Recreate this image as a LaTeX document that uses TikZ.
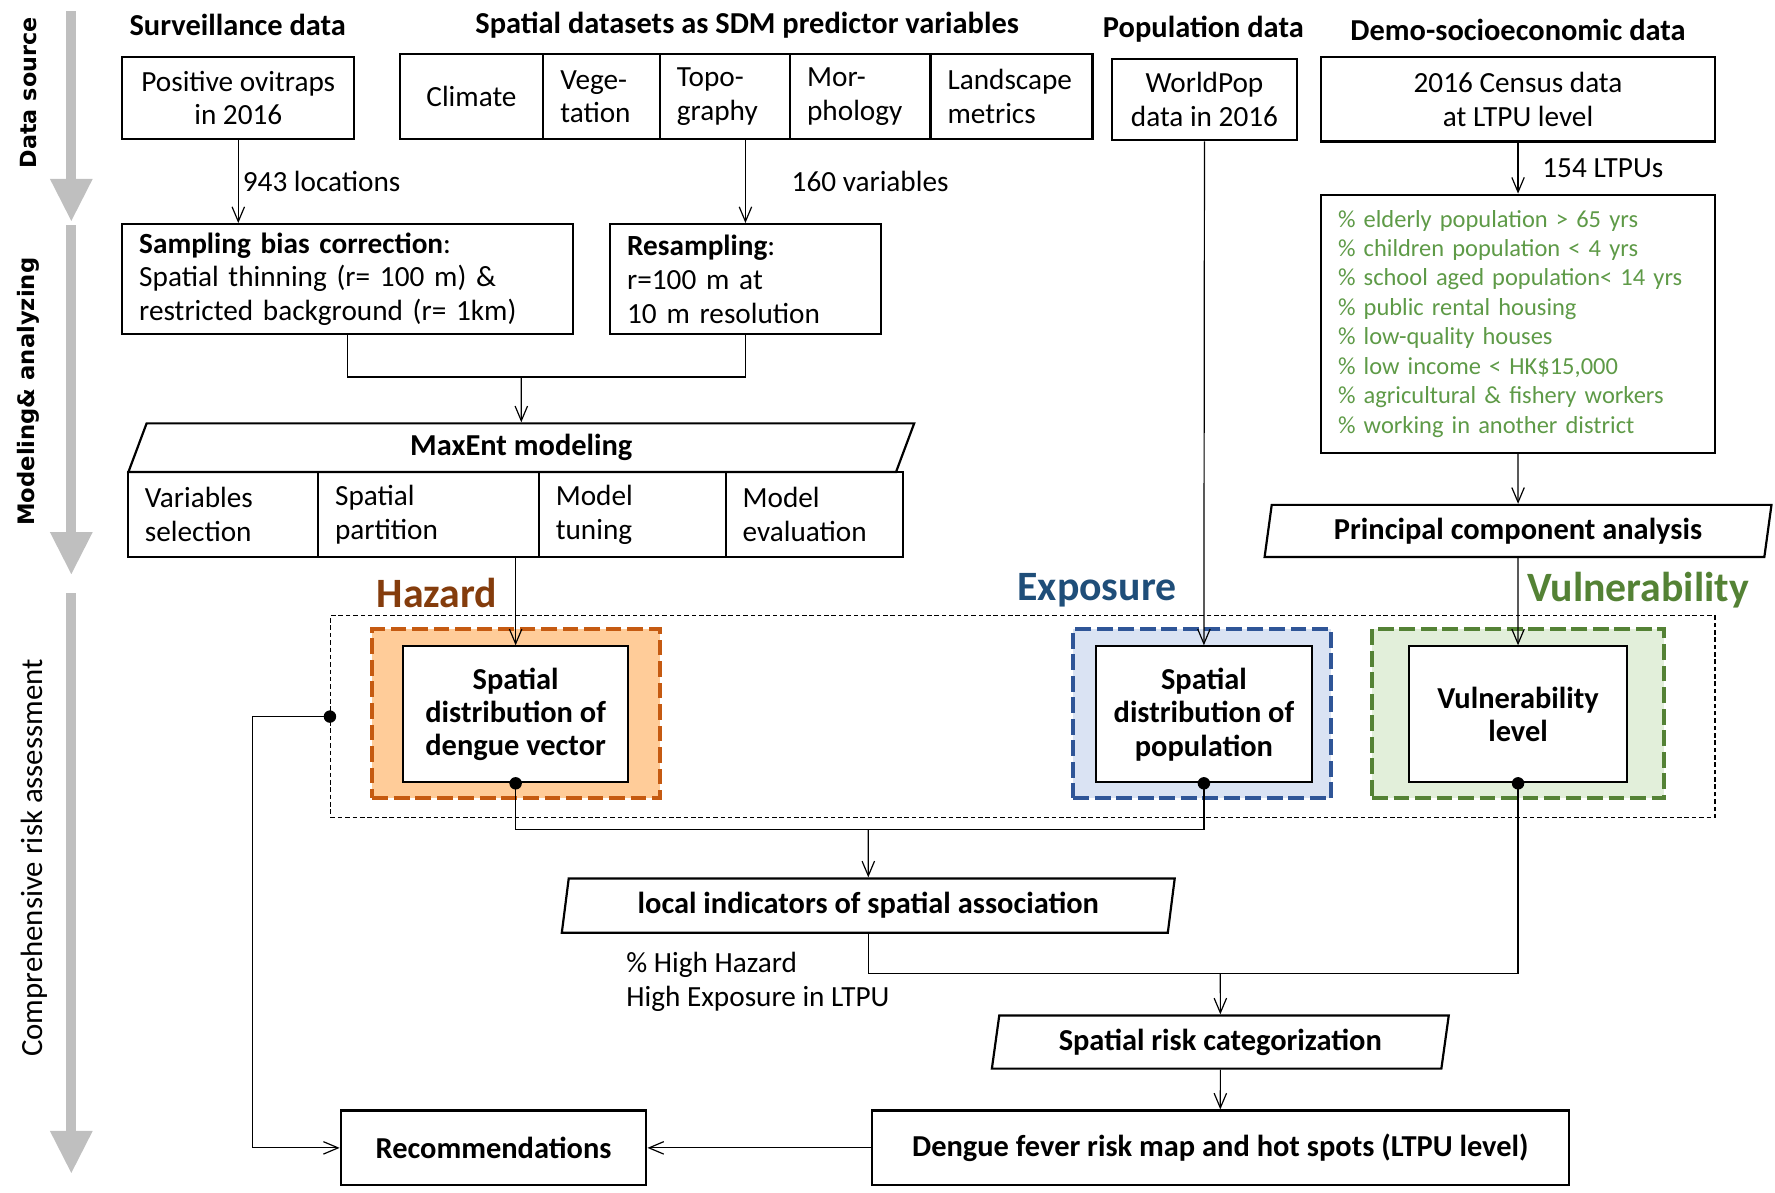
\documentclass[tikz,border=0pt]{standalone}
\usepackage{fontspec}
\setmainfont{Carlito}
\newfontfamily\sidefont{DejaVu Sans}
\usetikzlibrary{arrows.meta,shapes.geometric}
\definecolor{sidegray}{HTML}{BFBFBF}
\definecolor{hazline}{HTML}{C55A11}
\definecolor{hazfill}{HTML}{FFCC99}
\definecolor{hazword}{HTML}{843C0C}
\definecolor{expline}{HTML}{2F5597}
\definecolor{expfill}{HTML}{DAE3F3}
\definecolor{expword}{HTML}{1F4E79}
\definecolor{vulline}{HTML}{548235}
\definecolor{vulfill}{HTML}{E2EFDA}
\definecolor{vulword}{HTML}{548235}
\definecolor{listgreen}{HTML}{5E9A47}

\begin{document}
\begin{tikzpicture}[x=0.2mm,y=-0.2mm,
  box/.style={draw,line width=1.1pt,align=center,inner sep=0pt,font=\fontsize{14.7}{17}\selectfont},
  bbox/.style={box,font=\fontsize{15.3}{16.8}\selectfont\bfseries},
  wh/.style 2 args={minimum width=#1*0.2mm,minimum height=#2*0.2mm},
  cell/.style={box,align=left,text width=#1,inner xsep=3mm},
  title/.style={font=\fontsize{15.3}{17}\selectfont\bfseries,inner sep=0pt},
  para/.style={draw,line width=1.1pt,trapezium,trapezium left angle=78.5,trapezium right angle=101.5,
    trapezium stretches=true,inner sep=0pt,font=\fontsize{15.3}{17}\selectfont\bfseries},
  lbl/.style={font=\fontsize{14.7}{17}\selectfont,inner sep=0pt,align=left},
  risklbl/.style={font=\fontsize{21}{24}\selectfont\bfseries,inner sep=0pt},
  riskframe/.style={line width=2pt,dash pattern=on 2.8mm off 1mm},
  dot/.style={circle,fill,inner sep=0pt,minimum size=2.2mm},
  conn/.style={line width=0.6pt,-{Straight Barb[length=2.6mm,width=2.2mm]}},
  wire/.style={line width=0.6pt},
  sidearrow/.style={draw=sidegray,line width=1.8mm,-{Triangle[length=7.6mm,width=7mm]}},
  sidelbl/.style={rotate=90,inner sep=0pt}]
\useasboundingbox (0,0) rectangle (1568,1053);

\draw[sidearrow] (63,10) -- (63,196);
\draw[sidearrow] (63,199) -- (63,508);
\draw[sidearrow] (63,524) -- (63,1037);
\node[sidelbl,font=\sidefont\bfseries\fontsize{11.2}{13}\selectfont] (dsrc) at (25,82) {Data source};
\node[sidelbl,font=\sidefont\bfseries\fontsize{11.4}{13}\selectfont] (model) at (25,346) {Modeling\& analyzing};
\node[sidelbl,font=\fontsize{15.5}{18}\selectfont] (assess) at (30,758) {Comprehensive risk assessment};

\node[title] (surv) at (210,22) {Surveillance data};
\node[title] (sdm) at (660,22) {Spatial datasets as SDM predictor variables};
\node[title] (popd) at (1063,26) {Population data};
\node[title] (demo) at (1341,26) {Demo-socioeconomic data};

\node[box,wh={205}{73}] (ovi) at (210.5,86.5) {Positive ovitraps\\in 2016};
\node[box,wh={127}{75}] (clim) at (416.5,85.5) {Climate};
\node[cell=14.6mm,wh={103}{75}] (veg) at (531.5,85.5) {Vege-\\tation};
\node[cell=17mm,wh={115}{75}] (topo) at (640.5,85.5) {Topo-\\graphy};
\node[cell=18.8mm,wh={124}{75}] (morph) at (760,85.5) {Mor-\\phology};
\node[cell=22.6mm,wh={143}{75}] (land) at (893.5,85.5) {Landscape\\metrics};
\node[box,wh={164}{72}] (wpop) at (1064,88) {WorldPop\\data in 2016};
\node[box,wh={348}{75}] (cens) at (1341,87.5) {2016 Census data\\at LTPU level};

\node[cell=73.6mm,wh={398}{97}] (samp) at (307,246.5) {\textbf{Sampling bias correction}:\\Spatial thinning (r= 100 m) \&\\restricted background (r= 1km)};
\node[cell=41.8mm,wh={239}{97}] (resamp) at (658.5,246.5) {\textbf{Resampling}:\\r=100 m at\\10 m resolution};
\node[cell=63.6mm,wh={348}{228},text=listgreen,font=\fontsize{12.3}{14.8}\selectfont] (vars) at (1341,286) {\mbox{\% elderly population > 65 yrs}\\\mbox{\% children population < 4 yrs}\\\mbox{\% school aged population< 14 yrs}\\\mbox{\% public rental housing}\\\mbox{\% low-quality houses}\\\mbox{\% low income < HK\$15,000}\\\mbox{\% agricultural \& fishery workers}\\\mbox{\% working in another district}};

\node[para,wh={695}{43}] (maxent) at (460.5,395.5) {MaxEnt modeling};
\node[cell=27.6mm,wh={168}{75}] (varsel) at (197,454.5) {Variables\\selection};
\node[cell=33mm,wh={195}{75}] (part) at (378.5,454.5) {Spatial\\partition};
\node[cell=27mm,wh={165}{75}] (tune) at (558.5,454.5) {Model\\tuning};
\node[cell=25.4mm,wh={157}{75}] (evalm) at (719.5,454.5) {Model\\evaluation};
\node[para,wh={448}{46}] (pca) at (1341,469) {Principal component analysis};

\node[draw,line width=0.6pt,dash pattern=on 0.8mm off 0.5mm,wh={1223}{178}] (riskf) at (903.5,633) {};
\node[riskframe,draw=hazline,fill=hazfill,wh={254}{149}] (hazf) at (456,630.5) {};
\node[riskframe,draw=expline,fill=expfill,wh={228}{149}] (expf) at (1062,630.5) {};
\node[riskframe,draw=vulline,fill=vulfill,wh={258}{149}] (vulf) at (1341,630.5) {};
\node[bbox,fill=white,wh={199}{120}] (haz) at (455.5,631) {Spatial\\distribution of\\dengue vector};
\node[bbox,fill=white,wh={191}{120}] (expo) at (1063.5,631) {Spatial\\distribution of\\population};
\node[bbox,fill=white,wh={192}{120}] (vul) at (1341,631) {Vulnerability\\level};
\node[risklbl,text=hazword] (hazt) at (386,524) {Hazard};
\node[risklbl,text=expword] (expt) at (969,521) {Exposure};
\node[risklbl,text=vulword] (vult) at (1447,521) {Vulnerability};

\node[para,wh={542}{48}] (lisa) at (767,800) {local indicators of spatial association};
\node[lbl,anchor=west] (hh) at (553,867) {\% High Hazard\\High Exposure in LTPU};
\node[para,wh={404}{47}] (cat) at (1078,920.5) {Spatial risk categorization};
\node[bbox,wh={616}{66}] (rmap) at (1078,1014) {Dengue fever risk map and hot spots (LTPU level)};
\node[bbox,wh={270}{66}] (recom) at (436,1014) {Recommendations};

\node[dot] (dh) at (haz.south) {};
\node[dot] (de) at (expo.south) {};
\node[dot] (dv) at (vul.south) {};
\node[dot] (df) at (riskf.west) {};

\draw[conn] (ovi.south) -- (ovi.south |- samp.north) node[lbl,midway,right,xshift=0.7mm] (n943) {943 locations};
\draw[conn] (resamp.north |- topo.south) -- (resamp.north);
\node[lbl,anchor=west] (n160) at (699,160) {160 variables};
\draw[conn] (cens.south) -- (vars.north) node[lbl,midway,right,xshift=4.2mm] (n154) {154 LTPUs};
\coordinate (mg) at (460.5,333);
\draw[wire] (samp.south) |- (mg) -| (resamp.south);
\draw[conn] (mg) -- (maxent.north);
\draw[conn] (haz.north |- part.south) -- (haz.north);
\draw[conn] (wpop.south) -- (expo.north);
\draw[conn] (vars.south) -- (pca.north);
\draw[conn] (pca.south) -- (vul.north);
\coordinate (j1) at (767,733);
\draw[wire] (dh.center) |- (j1) -| (de.center);
\draw[conn] (j1) -- (lisa.north);
\coordinate (j2) at (1078,860);
\draw[wire] (lisa.south) |- (j2) -| (dv.center);
\draw[conn] (j2) -- (cat.north);
\draw[conn] (cat.south) -- (rmap.north);
\draw[conn] (rmap.west) -- (recom.east);
\coordinate (j3) at (223,633);
\draw[conn] (df.center) -- (j3) |- (recom.west);
\end{tikzpicture}
\end{document}
